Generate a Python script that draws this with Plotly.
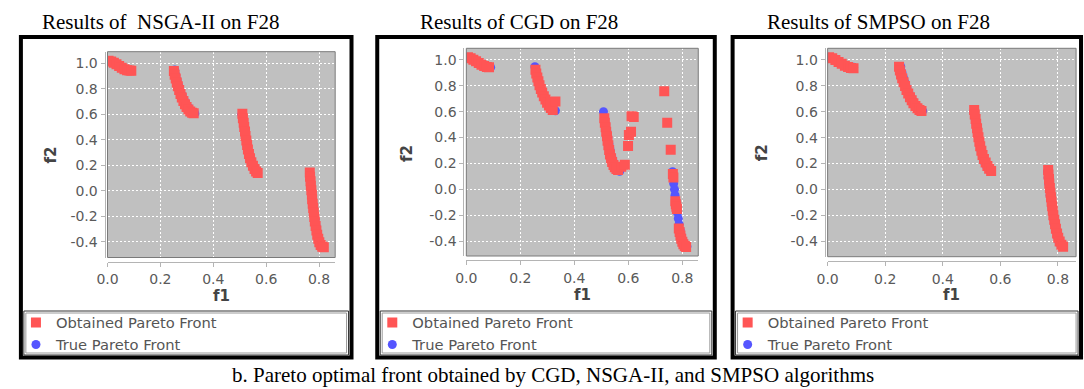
import plotly.graph_objects as go

# ---------------- data ----------------
titles = ["Results of\u00a0 NSGA-II on F28", "Results of CGD on F28", "Results of SMPSO on F28"]
caption = "b. Pareto optimal front obtained by CGD, NSGA-II, and SMPSO algorithms"
series_names = ["Obtained Pareto Front", "True Pareto Front"]
x_title = "f1"
y_title = "f2"
x_tick_vals = [0.0, 0.2, 0.4, 0.6, 0.8]
x_tick_labels = ["0.0", "0.2", "0.4", "0.6", "0.8"]
y_tick_vals = [-0.4, -0.2, 0.0, 0.2, 0.4, 0.6, 0.8, 1.0]
y_tick_labels = ["-0.4", "-0.2", "0.0", "0.2", "0.4", "0.6", "0.8", "1.0"]

# True Pareto front (blue)
true_f1 = [0.004, 0.015, 0.03, 0.045, 0.06, 0.075, 0.09,
           0.254, 0.258, 0.263, 0.269, 0.275, 0.282, 0.29, 0.298, 0.307, 0.316, 0.325, 0.33,
           0.508, 0.512, 0.516, 0.52, 0.524, 0.528, 0.533, 0.538, 0.545, 0.553, 0.562, 0.568,
           0.764, 0.766, 0.768, 0.771, 0.773, 0.776, 0.779, 0.782, 0.785, 0.788, 0.792, 0.797, 0.803, 0.81, 0.817]
true_f2 = [1.02, 1.012, 0.995, 0.975, 0.956, 0.945, 0.943,
           0.948, 0.905, 0.865, 0.825, 0.785, 0.748, 0.712, 0.68, 0.652, 0.628, 0.612, 0.607,
           0.60, 0.55, 0.50, 0.45, 0.40, 0.35, 0.30, 0.255, 0.21, 0.175, 0.15, 0.14,
           0.136, 0.09, 0.045, 0.0, -0.045, -0.09, -0.135, -0.18, -0.225, -0.27, -0.315, -0.36, -0.40, -0.43, -0.442]

# NSGA-II obtained front
nsga_f1 = [0.004, 0.014, 0.024, 0.034, 0.044, 0.054, 0.064, 0.074, 0.083, 0.09,
           0.251, 0.254, 0.258, 0.262, 0.266, 0.271, 0.276, 0.281, 0.287, 0.293, 0.299, 0.306, 0.313, 0.32, 0.326,
           0.51, 0.512, 0.515, 0.517, 0.52, 0.522, 0.525, 0.528, 0.531, 0.535, 0.539, 0.544, 0.55, 0.556, 0.562, 0.568,
           0.765, 0.766, 0.768, 0.769, 0.771, 0.773, 0.774, 0.776, 0.778, 0.78, 0.782, 0.784, 0.787, 0.79, 0.793,
           0.797, 0.801, 0.806, 0.812, 0.818]
nsga_f2 = [1.02, 1.015, 1.005, 0.993, 0.978, 0.965, 0.953, 0.946, 0.943, 0.942,
           0.94, 0.91, 0.88, 0.85, 0.82, 0.79, 0.76, 0.732, 0.705, 0.68, 0.658, 0.638, 0.622, 0.612, 0.608,
           0.605, 0.57, 0.535, 0.5, 0.465, 0.43, 0.395, 0.36, 0.325, 0.29, 0.255, 0.225, 0.197, 0.172, 0.152, 0.14,
           0.144, 0.11, 0.075, 0.04, 0.005, -0.03, -0.065, -0.1, -0.135, -0.17, -0.205, -0.24, -0.275, -0.31, -0.343,
           -0.375, -0.403, -0.425, -0.438, -0.442]

# CGD obtained front
cgd_f1 = [0.006, 0.016, 0.026, 0.036, 0.046, 0.056, 0.066, 0.076, 0.084,
          0.256, 0.259, 0.263, 0.267, 0.271, 0.276, 0.281, 0.287, 0.293, 0.299, 0.306, 0.313, 0.32, 0.312, 0.33,
          0.511, 0.513, 0.516, 0.518, 0.521, 0.523, 0.526, 0.529, 0.532, 0.536, 0.54, 0.545, 0.55, 0.556, 0.562,
          0.574, 0.587,
          0.599, 0.602, 0.61, 0.612, 0.62, 0.733, 0.744, 0.757,
          0.765, 0.767, 0.774, 0.776, 0.778, 0.780, 0.787, 0.79, 0.793, 0.796, 0.8, 0.804, 0.809, 0.814]
cgd_f2 = [1.02, 1.013, 1.002, 0.99, 0.976, 0.963, 0.953, 0.946, 0.944,
          0.925, 0.895, 0.865, 0.835, 0.805, 0.775, 0.748, 0.72, 0.694, 0.67, 0.648, 0.628, 0.614, 0.675, 0.678,
          0.55, 0.515, 0.48, 0.445, 0.41, 0.375, 0.34, 0.305, 0.27, 0.24, 0.212, 0.188, 0.17, 0.157, 0.15,
          0.175, 0.19,
          0.335, 0.42, 0.445, 0.565, 0.56, 0.759, 0.515, 0.306,
          0.118, 0.092, -0.092, -0.115, -0.135, -0.152, -0.302, -0.33, -0.357, -0.382, -0.405, -0.424, -0.438, -0.446]

# SMPSO obtained front
smpso_f1 = [0.005, 0.016, 0.027, 0.038, 0.049, 0.06, 0.071, 0.081, 0.09,
            0.248, 0.251, 0.255, 0.259, 0.264, 0.269, 0.274, 0.28, 0.286, 0.292, 0.298, 0.305, 0.312, 0.319, 0.326,
            0.509, 0.511, 0.514, 0.516, 0.519, 0.521, 0.524, 0.527, 0.53, 0.534, 0.538, 0.543, 0.549, 0.555, 0.561, 0.568,
            0.766, 0.767, 0.769, 0.77, 0.772, 0.774, 0.776, 0.778, 0.78, 0.782, 0.784, 0.787, 0.79, 0.793, 0.797,
            0.801, 0.806, 0.812, 0.818]
smpso_f2 = [1.02, 1.013, 1.0, 0.985, 0.97, 0.956, 0.945, 0.938, 0.936,
            0.948, 0.918, 0.888, 0.858, 0.828, 0.798, 0.768, 0.74, 0.712, 0.688, 0.665, 0.644, 0.626, 0.613, 0.606,
            0.613, 0.578, 0.543, 0.508, 0.473, 0.438, 0.403, 0.368, 0.333, 0.298, 0.265, 0.235, 0.207, 0.18, 0.16, 0.143,
            0.149, 0.115, 0.08, 0.045, 0.01, -0.025, -0.06, -0.095, -0.13, -0.165, -0.2, -0.235, -0.27, -0.305, -0.34,
            -0.373, -0.402, -0.427, -0.443]

obtained = [(nsga_f1, nsga_f2), (cgd_f1, cgd_f2), (smpso_f1, smpso_f2)]

# ---------------- layout geometry (pixels) ----------------
W, H = 1084, 389
def fx(p):
    return p / W
def fy(p):
    return 1 - p / H

panels = [
    dict(plot=(97.5, 327.5, 51.7, 257.5), xr=[0, 0.861], yr=[-0.522, 1.091],
         frame=(10, 344, 37, 357.5), leg=(13, 341, 311, 355), tx=151.5, f1=(212.5, 296), f2=(40, 155)),
    dict(plot=(460, 694.3, 48.3, 256), xr=[0, 0.859], yr=[-0.515, 1.09],
         frame=(370, 711, 37, 357.5), leg=(373, 708, 311, 355), tx=513, f1=(577, 295), f2=(400, 153)),
    dict(plot=(825, 1076, 48.3, 256.7), xr=[0, 0.863], yr=[-0.52, 1.09],
         frame=(729, 1081, 37, 357.5), leg=(732, 1078, 311, 355), tx=876, f1=(950.5, 295), f2=(759, 153)),
]

RED = "#FF5555"
BLUE = "#5555FF"
TICK_FONT = dict(family="DejaVu Sans", size=14, color="#5a5a5a")
LEG_FONT = dict(family="DejaVu Sans", size=14.7, color="#555555")

fig = go.Figure()
shapes = []
annotations = []
layout = dict(width=W, height=H, margin=dict(l=0, r=0, t=0, b=0),
              paper_bgcolor="white", plot_bgcolor="#C0C0C0", showlegend=True)

for i, p in enumerate(panels):
    n = "" if i == 0 else str(i + 1)
    xa, ya = "x" + n, "y" + n
    x0, x1, y0, y1 = p["plot"]
    leg_obt = "legend" if i == 0 else f"legend{2 * i + 1}"
    leg_true = f"legend{2 * i + 2}"

    fig.add_trace(go.Scatter(x=true_f1, y=true_f2, mode="markers", name=series_names[1],
                             marker=dict(symbol="circle", size=9, color=BLUE, line=dict(width=0)),
                             xaxis=xa, yaxis=ya, legend=leg_true))
    ox, oy = obtained[i]
    fig.add_trace(go.Scatter(x=ox, y=oy, mode="markers", name=series_names[0],
                             marker=dict(symbol="square", size=10, color=RED, line=dict(width=0)),
                             xaxis=xa, yaxis=ya, legend=leg_obt))

    common = dict(showgrid=True, gridcolor="white", griddash="2px,2px", gridwidth=1,
                  zeroline=False, showline=True, linecolor="#b4b4b4", linewidth=1,
                  ticks="outside", ticklen=4, tickcolor="#b4b4b4",
                  tickfont=TICK_FONT, fixedrange=True)
    layout["xaxis" + n] = dict(domain=[fx(x0), fx(x1)], range=p["xr"], anchor="free",
                               position=fy(y1 + 4), tickvals=x_tick_vals, ticktext=x_tick_labels,
                               ticklabelstandoff=1, **common)
    layout["yaxis" + n] = dict(domain=[fy(y1), fy(y0)], range=p["yr"], anchor="free",
                               position=fx(x0 - 3), tickvals=y_tick_vals, ticktext=y_tick_labels,
                               **common)

    # plot frame
    shapes.append(dict(type="rect", xref=xa + " domain", yref=ya + " domain", x0=0, x1=1, y0=0, y1=1,
                       line=dict(color="#7a7a7a", width=1), layer="above"))
    # panel black border
    a0, a1, b0, b1 = p["frame"]
    shapes.append(dict(type="rect", xref="paper", yref="paper", x0=fx(a0), x1=fx(a1), y0=fy(b1), y1=fy(b0),
                       line=dict(color="black", width=4)))
    # legend box (double line)
    l0, l1, m0, m1 = p["leg"]
    shapes.append(dict(type="rect", xref="paper", yref="paper", x0=fx(l0), x1=fx(l1), y0=fy(m1), y1=fy(m0),
                       line=dict(color="#333333", width=1)))
    shapes.append(dict(type="rect", xref="paper", yref="paper", x0=fx(l0 + 2), x1=fx(l1 - 2), y0=fy(m1 - 2), y1=fy(m0 + 2),
                       line=dict(color="#9a9a9a", width=1)))

    # legends (one entry each)
    layout[leg_obt] = dict(x=fx(l0 - 8), y=fy(323), xanchor="left", yanchor="middle",
                           bgcolor="rgba(0,0,0,0)", borderwidth=0, font=LEG_FONT)
    layout[leg_true] = dict(x=fx(l0 - 8), y=fy(345), xanchor="left", yanchor="middle",
                            bgcolor="rgba(0,0,0,0)", borderwidth=0, font=LEG_FONT)

    # titles
    annotations.append(dict(text=titles[i], x=fx(p["tx"]), y=fy(22), xref="paper", yref="paper",
                            xanchor="center", yanchor="middle", showarrow=False,
                            font=dict(family="Liberation Serif", size=21, color="black")))
    annotations.append(dict(text="<b>" + x_title + "</b>", x=fx(p["f1"][0]), y=fy(p["f1"][1]), xref="paper", yref="paper",
                            xanchor="center", yanchor="middle", showarrow=False,
                            font=dict(family="DejaVu Sans", size=15, color="#444444")))
    annotations.append(dict(text="<b>" + y_title + "</b>", x=fx(p["f2"][0]), y=fy(p["f2"][1]), xref="paper", yref="paper",
                            xanchor="center", yanchor="middle", showarrow=False, textangle=-90,
                            font=dict(family="DejaVu Sans", size=15, color="#444444")))

annotations.append(dict(text=caption, x=fx(548), y=0, xref="paper", yref="paper",
                        xanchor="center", yanchor="bottom", showarrow=False,
                        font=dict(family="Liberation Serif", size=21, color="black")))

layout["shapes"] = shapes
layout["annotations"] = annotations
fig.update_layout(**layout)
fig.write_html("out.html")
